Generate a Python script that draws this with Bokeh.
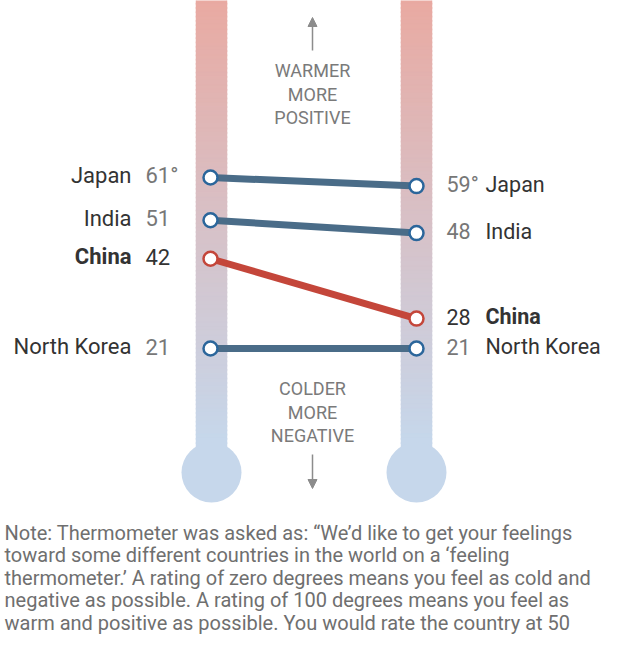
from bokeh.plotting import figure
from bokeh.models import Range1d, Arrow, NormalHead
from bokeh.core.properties import value
from bokeh.embed import file_html
from bokeh.resources import INLINE

# ---- data ----
countries = ["Japan", "India", "China", "North Korea"]
before_vals = [61, 51, 42, 21]
after_vals = [59, 48, 28, 21]
highlight = [False, False, True, False]
note_lines = [
    "Note: Thermometer was asked as: \u201cWe\u2019d like to get your feelings",
    "toward some different countries in the world on a \u2018feeling",
    "thermometer.\u2019 A rating of zero degrees means you feel as cold and",
    "negative as possible. A rating of 100 degrees means you feel as",
    "warm and positive as possible. You would rate the country at 50",
]

# ---- geometry helpers (picture pixels -> rating scale) ----
PX_PER_DEG = 4.275
Y0 = 437.8


def deg(py):
    return (Y0 - py) / PX_PER_DEG


W, H = 604, 634
p = figure(width=W, height=H, output_backend="svg", toolbar_location=None,
           x_range=Range1d(0, W), y_range=Range1d(deg(H), deg(0)),
           min_border=0, outline_line_color=None, background_fill_color="white")
p.axis.visible = False
p.grid.visible = False

XL, XR = 210, 416
TUBE_W = 31

# thermometer tubes with vertical gradient
top_rgb = (233, 170, 162)
bot_rgb = (198, 215, 235)
n = 110
t_top, t_bot = deg(-2), deg(472)
lefts, rights, bottoms, tops, cols = [], [], [], [], []
for cx in (XL + 1, XR):
    for i in range(n):
        a = t_top + (t_bot - t_top) * i / n
        b = t_top + (t_bot - t_top) * (i + 1) / n
        fr = min(1.0, (i / n) / (440 / 474))
        c = tuple(int(round(top_rgb[k] + (bot_rgb[k] - top_rgb[k]) * fr)) for k in range(3))
        lefts.append(cx - TUBE_W / 2)
        rights.append(cx + TUBE_W / 2)
        tops.append(a)
        bottoms.append(b - 0.4)
        cols.append("#%02x%02x%02x" % c)
p.quad(left=lefts, right=rights, bottom=bottoms, top=tops, fill_color=cols,
       line_color=cols, line_width=0.5)
p.scatter(x=[XL + 1, XR], y=[deg(472), deg(472)], size=60, marker="circle",
          fill_color="#c6d7eb", line_color=None)

# connecting lines
blue_line = "#4a6c88"
red_line = "#c4463a"
line_cols = [red_line if h else blue_line for h in highlight]
p.segment(x0=[XL] * 4, y0=before_vals, x1=[XR] * 4, y1=after_vals,
          line_color=line_cols, line_width=7)
mark_cols = ["#c4463a" if h else "#2b669b" for h in highlight]
p.scatter(x=[XL] * 4 + [XR] * 4, y=before_vals + after_vals, size=14, marker="circle",
          fill_color="white", line_color=mark_cols + mark_cols, line_width=2.5)

FONT = value("Roboto")
dark = "#333333"
grey = "#777777"
LAB_SIZE = "22px"
RLAB_SIZE = "21.5px"

# left labels
for i, c in enumerate(countries):
    v = before_vals[i]
    y = v + 2.0 / PX_PER_DEG
    p.text(x=[131], y=[y], text=[c], text_align="right", text_baseline="middle",
           text_font=FONT, text_font_size=LAB_SIZE, text_color=dark,
           text_font_style="bold" if highlight[i] else "normal")
    lab = f"{v}\u00b0" if i == 0 else f"{v}"
    p.text(x=[145], y=[y], text=[lab], text_align="left", text_baseline="middle",
           text_font=FONT, text_font_size=LAB_SIZE,
           text_color=dark if highlight[i] else grey)

# right labels
for i, c in enumerate(countries):
    v = after_vals[i]
    y = v + 2.0 / PX_PER_DEG
    p.text(x=[485], y=[y], text=[c], text_align="left", text_baseline="middle",
           text_font=FONT, text_font_size=RLAB_SIZE, text_color=dark,
           text_font_style="bold" if highlight[i] else "normal")
    lab = f"{v}\u00b0" if i == 0 else f"{v}"
    p.text(x=[446], y=[y], text=[lab], text_align="left", text_baseline="middle",
           text_font=FONT, text_font_size=RLAB_SIZE,
           text_color=dark if highlight[i] else grey)

# direction labels
XM = 312
for txt, py in zip(["WARMER", "MORE", "POSITIVE"], [70, 94, 117]):
    p.text(x=[XM], y=[deg(py)], text=[txt], text_align="center", text_baseline="middle",
           text_font=FONT, text_font_size="18px", text_color="#7a7a7a")
for txt, py in zip(["COLDER", "MORE", "NEGATIVE"], [388, 412, 435]):
    p.text(x=[XM], y=[deg(py)], text=[txt], text_align="center", text_baseline="middle",
           text_font=FONT, text_font_size="18px", text_color="#7a7a7a")

arrow_col = "#8c8c8c"
p.add_layout(Arrow(end=NormalHead(size=9, fill_color=arrow_col, line_color=arrow_col),
                   x_start=XM, y_start=deg(50), x_end=XM, y_end=deg(17),
                   line_color=arrow_col, line_width=1.5))
p.add_layout(Arrow(end=NormalHead(size=9, fill_color=arrow_col, line_color=arrow_col),
                   x_start=XM, y_start=deg(454), x_end=XM, y_end=deg(488),
                   line_color=arrow_col, line_width=1.5))

# note
for k, line in enumerate(note_lines):
    p.text(x=[4], y=[deg(532 + 22.6 * k)], text=[line], text_align="left",
           text_baseline="middle", text_font=FONT, text_font_size="20px",
           text_color="#6f6f6f")

open("out.html", "w").write(file_html(p, INLINE))
